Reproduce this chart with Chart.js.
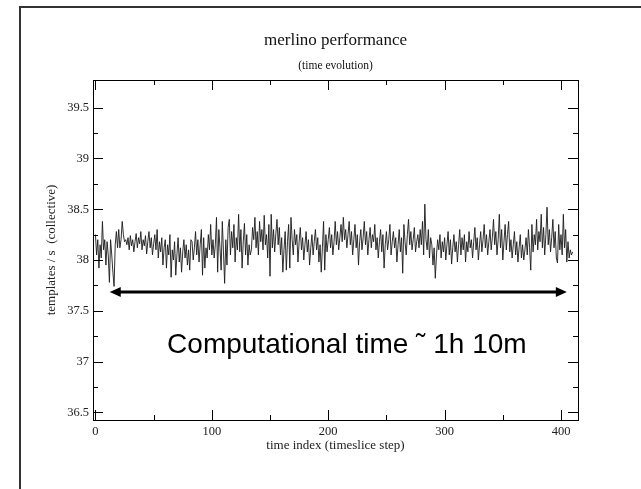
<!DOCTYPE html>
<html>
<head>
<meta charset="utf-8">
<script src="https://cdn.jsdelivr.net/npm/chart.js@4.4.0/dist/chart.umd.min.js"></script>
<style>
  html, body { margin: 0; padding: 0; background: #fff; }
  #wrap { width: 641px; height: 489px; }
</style>
</head>
<body>
<div id="wrap"><canvas id="perfChart" width="641" height="489"></canvas></div>
<script>
// merlino performance - templates/s over timeslice steps

const xTicks = [0, 100, 200, 300, 400];
const xMinorTicks = [50, 150, 250, 350];
const yTicks = [36.5, 37, 37.5, 38, 38.5, 39, 39.5];
const yMinorTicks = [36.75, 37.25, 37.75, 38.25, 38.75, 39.25];

// one value per timeslice step
const templatesPerSec = [
  38.25, 38.05, 38.20, 37.92, 38.15, 38.02, 38.38, 38.10, 38.20, 37.95, 38.18, 38.05, 37.78, 38.20, 38.05, 37.88, 37.74, 38.15, 38.28, 38.12,
  38.30, 38.12, 38.20, 38.38, 38.25, 38.18, 38.20, 38.15, 38.22, 38.10, 38.24, 38.14, 38.20, 38.08, 38.18, 38.26, 38.12, 38.22, 38.16, 38.28,
  38.10, 38.20, 38.14, 38.24, 38.06, 38.18, 38.28, 38.12, 38.22, 38.05, 38.16, 38.25, 38.10, 38.30, 38.02, 38.18, 38.08, 38.22, 37.95, 38.12,
  38.20, 37.92, 38.15, 38.05, 38.25, 37.83, 38.10, 38.00, 38.18, 37.85, 38.05, 38.22, 37.98, 38.12, 37.88, 38.08, 38.20, 38.02, 38.15, 37.95,
  38.10, 37.90, 38.20, 38.18, 38.00, 38.12, 38.28, 38.05, 38.20, 37.98, 38.15, 38.30, 37.85, 38.22, 37.92, 38.12, 38.02, 38.25, 38.10, 38.35,
  38.05, 38.20, 38.02, 38.15, 38.42, 37.88, 38.30, 38.12, 37.90, 38.38, 38.08, 37.77, 38.20, 37.95, 38.32, 38.40, 38.05, 38.28, 38.12, 38.35,
  37.98, 38.22, 38.10, 38.45, 38.08, 38.30, 37.92, 38.18, 38.36, 38.05, 38.25, 37.95, 38.15, 38.05, 38.10, 38.32, 38.20, 38.42, 38.12, 38.28,
  38.05, 38.38, 38.18, 38.30, 38.10, 38.44, 38.15, 38.25, 38.02, 38.35, 37.84, 38.45, 38.12, 38.30, 38.08, 38.26, 38.40, 38.15, 38.32, 38.05,
  38.22, 37.88, 38.10, 38.28, 37.90, 38.18, 38.35, 37.92, 38.42, 38.20, 38.05, 38.30, 38.15, 38.25, 37.98, 38.18, 38.32, 38.10, 38.22, 38.00,
  38.15, 38.28, 38.08, 38.20, 37.95, 38.12, 38.25, 38.05, 38.18, 38.30, 38.10, 38.22, 37.98, 38.15, 37.88, 38.12, 38.38, 37.90, 38.25, 38.08,
  38.20, 38.32, 38.12, 38.25, 38.05, 38.18, 38.38, 38.15, 38.28, 38.10, 38.22, 38.35, 38.18, 38.42, 38.20, 38.30, 38.12, 38.25, 38.38, 38.15,
  38.28, 38.05, 38.20, 38.35, 38.12, 38.25, 37.95, 38.18, 38.30, 38.10, 38.22, 38.38, 38.15, 38.28, 38.05, 38.20, 38.32, 38.12, 38.25, 38.18,
  38.35, 38.10, 38.22, 38.02, 38.18, 38.30, 38.08, 38.25, 37.92, 38.15, 38.28, 38.10, 38.20, 38.35, 38.05, 38.18, 38.28, 38.12, 38.22, 37.98,
  38.15, 38.30, 38.08, 38.22, 37.87, 38.35, 38.18, 38.05, 38.25, 38.40, 38.15, 38.28, 38.10, 38.20, 38.32, 38.08, 38.18, 38.25, 38.12, 38.30,
  38.15, 38.38, 38.05, 38.55, 38.20, 38.10, 38.30, 38.02, 38.22, 38.15, 37.95, 38.12, 37.82, 38.05, 38.20, 38.10, 38.25, 38.02, 38.18, 38.08,
  38.22, 38.00, 38.15, 38.28, 38.05, 38.20, 37.96, 38.12, 38.25, 38.08, 38.18, 37.98, 38.15, 38.30, 38.05, 38.22, 38.10, 38.25, 37.98, 38.18,
  38.08, 38.28, 38.12, 38.20, 38.02, 38.18, 38.32, 38.10, 38.22, 38.00, 38.15, 38.28, 38.08, 38.20, 38.35, 38.12, 38.25, 38.05, 38.18, 38.30,
  38.10, 38.22, 38.40, 38.15, 38.28, 38.05, 38.20, 38.45, 38.12, 38.30, 38.00, 38.18, 38.35, 38.10, 38.25, 38.38, 38.08, 38.20, 38.02, 38.15,
  38.28, 38.05, 38.18, 37.98, 38.12, 38.25, 38.02, 38.15, 38.00, 38.10, 38.22, 38.05, 38.30, 38.12, 37.90, 38.35, 38.08, 38.25, 38.15, 38.40,
  38.10, 38.28, 38.18, 38.45, 38.12, 38.32, 38.05, 38.25, 38.52, 38.15, 38.30, 38.08, 38.22, 38.40, 38.12, 38.28, 38.02, 37.97, 38.35, 38.10,
  38.25, 38.05, 38.45, 38.12, 38.30, 37.98, 38.18, 38.02, 38.10, 38.05, 38.08
];

// annotation: double arrow across the run + note
const arrowFrom = 12.3, arrowTo = 405, arrowLevel = 37.68;
const noteText = 'Computational time \u02DC 1h 10m';
const noteX = 216, noteY = 37.16;

const serif = '"Liberation Serif", "Times New Roman", serif';

// ticks inside the frame, like the original xmgrace plot
const frameTicks = {
  id: 'frameTicks',
  afterDatasetsDraw(chart) {
    const { ctx, chartArea: a, scales: { x, y } } = chart;
    ctx.save();
    ctx.strokeStyle = '#000';
    ctx.lineWidth = 1;
    const seg = (x1, y1, x2, y2) => { ctx.beginPath(); ctx.moveTo(x1, y1); ctx.lineTo(x2, y2); ctx.stroke(); };
    const xt = (vals, len) => vals.forEach(v => {
      const px = Math.round(x.getPixelForValue(v)) + 0.5;
      seg(px, a.bottom, px, a.bottom - len);
      seg(px, a.top, px, a.top + len);
    });
    const yt = (vals, len) => vals.forEach(v => {
      const py = Math.round(y.getPixelForValue(v)) + 0.5;
      seg(a.left, py, a.left + len, py);
      seg(a.right, py, a.right - len, py);
    });
    xt(xTicks, 10); xt(xMinorTicks, 5);
    yt(yTicks, 10); yt(yMinorTicks, 5);
    ctx.strokeRect(Math.round(a.left) + 0.5, Math.round(a.top) + 0.5, Math.round(a.right - a.left), Math.round(a.bottom - a.top));

    // double arrow
    const x1 = x.getPixelForValue(arrowFrom), x2 = x.getPixelForValue(arrowTo);
    const ya = Math.round(y.getPixelForValue(arrowLevel));
    ctx.lineWidth = 3;
    seg(x1 + 8, ya, x2 - 8, ya);
    ctx.fillStyle = '#000';
    ctx.beginPath(); ctx.moveTo(x1, ya); ctx.lineTo(x1 + 11, ya - 5); ctx.lineTo(x1 + 11, ya + 5); ctx.closePath(); ctx.fill();
    ctx.beginPath(); ctx.moveTo(x2, ya); ctx.lineTo(x2 - 11, ya - 5); ctx.lineTo(x2 - 11, ya + 5); ctx.closePath(); ctx.fill();

    ctx.font = '28px "Liberation Sans", Arial, sans-serif';
    ctx.textAlign = 'center';
    ctx.textBaseline = 'middle';
    ctx.fillText(noteText, x.getPixelForValue(noteX), y.getPixelForValue(noteY));
    ctx.restore();
  },
  afterDraw(chart) {
    // slide frame (left and top edges)
    const ctx = chart.ctx;
    ctx.save();
    ctx.strokeStyle = '#333';
    ctx.lineWidth = 2;
    ctx.beginPath();
    ctx.moveTo(20, 489); ctx.lineTo(20, 7); ctx.lineTo(641, 7);
    ctx.stroke();
    ctx.restore();
  }
};

const ctx = document.getElementById('perfChart').getContext('2d');
new Chart(ctx, {
  type: 'line',
  data: {
    datasets: [{
      data: templatesPerSec.map((v, i) => ({ x: i, y: v })),
      borderColor: '#1a1a1a',
      borderWidth: 0.9,
      pointRadius: 0,
      tension: 0,
      fill: false
    }]
  },
  options: {
    responsive: false,
    animation: false,
    events: [],
    layout: { padding: { left: 40, right: 63, top: 0, bottom: 33 } },
    plugins: {
      legend: { display: false },
      tooltip: { enabled: false },
      title: {
        display: true,
        text: 'merlino performance',
        fullSize: false,
        color: '#111',
        font: { family: serif, size: 17, weight: 'normal', lineHeight: 1.2 },
        padding: { top: 30, bottom: 9 }
      },
      subtitle: {
        display: true,
        text: '(time evolution)',
        fullSize: false,
        color: '#111',
        font: { family: serif, size: 11.5, weight: 'normal', lineHeight: 1.2 },
        padding: { top: 0, bottom: 6.8 }
      }
    },
    scales: {
      x: {
        type: 'linear',
        min: -2.1,
        max: 414.6,
        afterFit: s => { s.height = 36; },
        afterBuildTicks: s => { s.ticks = xTicks.map(v => ({ value: v })); },
        grid: { display: false, drawTicks: false },
        border: { display: false },
        ticks: { color: '#222', padding: 4, maxRotation: 0, autoSkip: false, font: { family: serif, size: 12.5 } },
        title: { display: true, text: 'time index (timeslice step)', color: '#222', padding: { top: 0, bottom: 3 }, font: { family: serif, size: 13 } }
      },
      y: {
        min: 36.424,
        max: 39.773,
        afterFit: s => { s.width = 53; },
        afterBuildTicks: s => { s.ticks = yTicks.map(v => ({ value: v })); },
        grid: { display: false, drawTicks: false },
        border: { display: false },
        ticks: { color: '#222', padding: 4, autoSkip: false, font: { family: serif, size: 12.5 }, callback: v => String(v) },
        title: { display: true, text: 'templates / s  (collective)', color: '#222', padding: { top: 4, bottom: 0 }, font: { family: serif, size: 13 } }
      }
    }
  },
  plugins: [frameTicks]
});
</script>
</body>
</html>
